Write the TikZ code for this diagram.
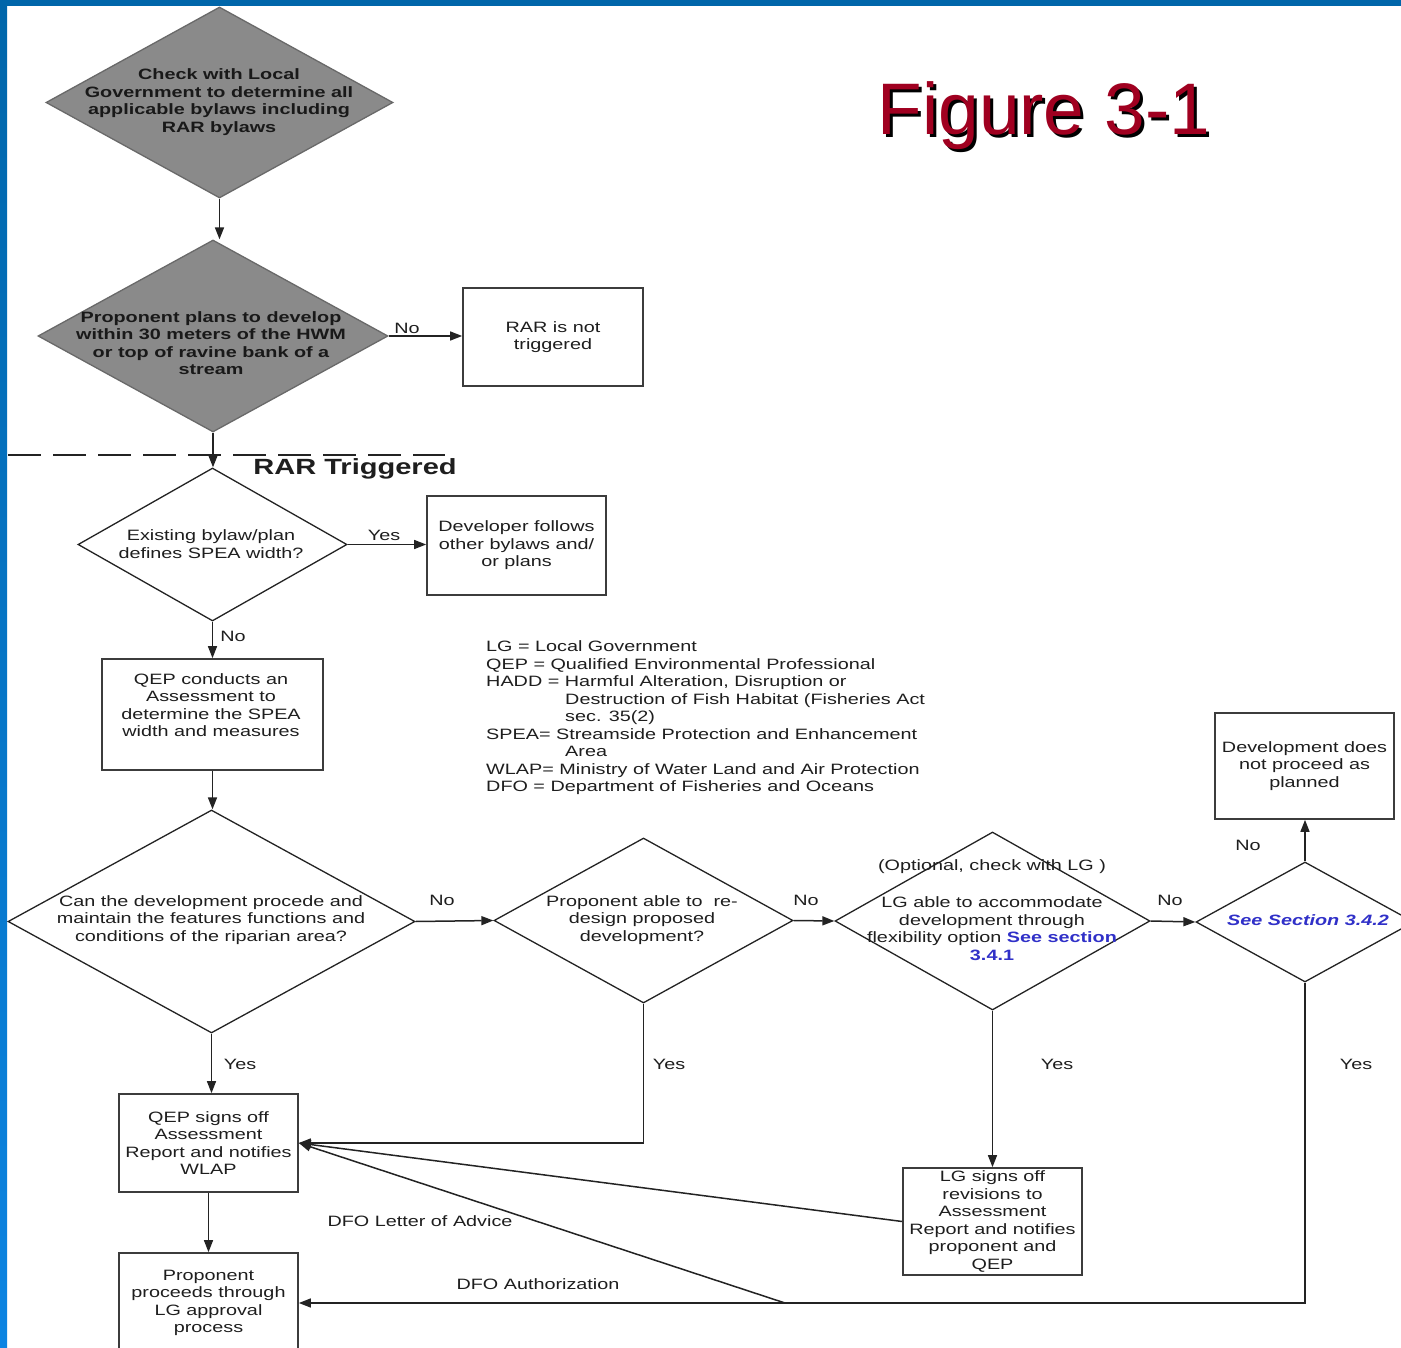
\documentclass[tikz,border=0pt]{standalone}
\usepackage{fontspec}
\setmainfont{Liberation Sans}[FakeStretch=1.32]
\newfontfamily\titlefont{Liberation Sans}
\usetikzlibrary{arrows.meta,shapes.geometric}
\definecolor{linec}{RGB}{35,35,35}
\definecolor{boxc}{RGB}{60,60,60}
\definecolor{textc}{RGB}{30,30,30}
\definecolor{gfill}{RGB}{138,138,138}
\definecolor{gdraw}{RGB}{105,105,105}
\definecolor{linkc}{RGB}{48,48,200}
\definecolor{titlec}{RGB}{160,0,32}
\definecolor{topblue}{RGB}{0,102,170}
\definecolor{botblue}{RGB}{12,132,226}
\newcommand\bodyf{\fontsize{15}{17.5}\selectfont}
\tikzset{
  ln/.style={draw=linec, line width=1.5pt},
  arr/.style={ln, -{Triangle[length=12pt,width=9pt]}},
  box/.style={draw=boxc, line width=1.7pt, fill=white, inner sep=0pt, align=center, font=\bodyf, text=textc},
  dia/.style={diamond, draw=linec, line width=1.3pt, inner sep=0pt, fill=white},
  gdia/.style={dia, fill=gfill, draw=gdraw},
  txt/.style={align=center, inner sep=0pt, font=\bodyf, text=textc},
  btxt/.style={align=center, inner sep=0pt, font=\bodyf\bfseries, text=black!90},
  lab/.style={inner sep=0pt, font=\bodyf, text=textc},
}
\begin{document}
\begin{tikzpicture}[x=1pt,y=-1pt]
\useasboundingbox (0,0) rectangle (1401,1348);
\clip (0,0) rectangle (1401,1348);
\fill[white] (0,0) rectangle (1401,1348);
\fill[topblue] (0,0) rectangle (1401,6);
\shade[top color=topblue, bottom color=botblue] (0,0) rectangle (7,1348);

% title with drop shadow
\node[inner sep=0pt, anchor=base, font=\titlefont\fontsize{73}{80}\selectfont, text=black] (titleshadow) at (1047,138) {Figure 3-1};
\node[inner sep=0pt, anchor=base, font=\titlefont\fontsize{73}{80}\selectfont, text=titlec] (title) at (1044,135) {Figure 3-1};

% dashed separator
\draw[draw=linec, line width=1.3pt, dash pattern=on 33pt off 12pt] (8,455) -- (445,455);
\node[inner sep=0pt, font=\fontsize{22}{26}\selectfont\bfseries, text=textc] (rart) at (355,469) {RAR Triggered};

% diamonds
\node[gdia, minimum width=347pt, minimum height=191pt] (d1) at (219.5,102.5) {};
\node[btxt] (d1t) at (219,102) {Check with Local\\Government to determine all\\applicable bylaws including\\RAR bylaws};
\node[gdia, minimum width=350pt, minimum height=192pt] (d2) at (213,336) {};
\node[btxt] (d2t) at (211,343) {Proponent plans to develop\\within 30 meters of the HWM\\or top of ravine bank of a\\stream};
\node[dia, minimum width=269pt, minimum height=153pt] (d3) at (212.5,544.5) {};
\node[txt] (d3t) at (211,544) {Existing bylaw/plan\\defines SPEA width?};
\node[dia, minimum width=407pt, minimum height=223pt] (d4) at (211.5,921.5) {};
\node[txt] (d4t) at (211,920) {Can the development procede and\\maintain the features functions and\\conditions of the riparian area?};
\node[dia, minimum width=299pt, minimum height=165pt] (d5) at (643.5,920.5) {};
\node[txt] (d5t) at (642,920) {Proponent able to\ \ re-\\design proposed\\development?};
\node[dia, minimum width=315pt, minimum height=178pt] (d6) at (992.5,921) {};
\node[txt] (d6o) at (992,867) {(Optional, check with LG )};
\node[txt] (d6t) at (992,928.5) {LG able to accommodate\\development through\\flexibility option {\color{linkc}\bfseries See section}\\{\color{linkc}\bfseries 3.4.1}};
\node[dia, minimum width=218pt, minimum height=120pt] (d7) at (1305,922) {};
\node[txt, text=linkc, font=\bodyf\bfseries\itshape] (d7t) at (1308,920) {See Section 3.4.2};

% boxes
\node[box, minimum width=180pt, minimum height=98pt] (rar) at (553,337) {RAR is not\\triggered};
\node[box, minimum width=179pt, minimum height=99pt] (dev) at (516.5,545.5) {Developer follows\\other bylaws and/\\or plans};
\node[box, minimum width=221pt, minimum height=111pt] (qep1) at (212.5,714.5) {};
\node[txt] (qep1t) at (211,705) {QEP conducts an\\Assessment to\\determine the SPEA\\width and measures};
\node[box, minimum width=179pt, minimum height=106pt] (dnp) at (1304.5,766) {Development does\\not proceed as\\planned};
\node[box, minimum width=179pt, minimum height=98pt] (qep2) at (208.5,1143) {QEP signs off\\Assessment\\Report and notifies\\WLAP};
\node[box, minimum width=179pt, minimum height=107pt] (lg) at (992.5,1221.5) {LG signs off\\revisions to\\Assessment\\Report and notifies\\proponent and\\QEP};
\node[box, minimum width=179pt, minimum height=100pt] (prop) at (208.5,1303) {Proponent\\proceeds through\\LG approval\\process};

% legend
\node[lab, align=left, anchor=west] (legend) at (486,718) {LG = Local Government\\QEP = Qualified Environmental Professional\\HADD = Harmful Alteration, Disruption or\\\hspace*{79pt}Destruction of Fish Habitat (Fisheries Act\\\hspace*{79pt}sec. 35(2)\\SPEA= Streamside Protection and Enhancement\\\hspace*{79pt}Area\\WLAP= Ministry of Water Land and Air Protection\\DFO = Department of Fisheries and Oceans};

% connectors
\draw[arr] (d1.south) -- (d1.south |- d2.north);
\draw[arr] (d2.east) -- (d2.east -| rar.west);
\draw[arr] (d2.south) -- (d2.south |- d3.north);
\draw[arr] (d3.east) -- (d3.east -| dev.west);
\draw[arr] (d3.south) -- (d3.south |- qep1.north);
\draw[arr] (qep1.south) -- (qep1.south |- d4.north);
\draw[arr] (d4.east) -- (d5.west);
\draw[arr] (d5.east) -- (d6.west);
\draw[arr] (d6.east) -- (d7.west);
\draw[arr] (d7.north) -- (d7.north |- dnp.south);
\draw[arr] (d4.south) -- (d4.south |- qep2.north);
\draw[arr] (d5.south) |- (qep2.east);
\draw[arr] (d6.south) -- (d6.south |- lg.north);
\draw[arr] (lg.west) -- (qep2.east);
\coordinate (dfo) at (785,1303);
\draw[arr] (dfo) -- (qep2.east);
\draw[arr] (d7.south) |- (prop.east);
\draw[arr] (qep2.south) -- (qep2.south |- prop.north);

% labels
\node[lab] (l1) at (407,328) {No};
\node[lab] (l2) at (384,535) {Yes};
\node[lab] (l3) at (233,636) {No};
\node[lab] (l4) at (442,900) {No};
\node[lab] (l5) at (806,900) {No};
\node[lab] (l6) at (1170,900) {No};
\node[lab] (l7) at (1248,845) {No};
\node[lab] (l8) at (240,1064) {Yes};
\node[lab] (l9) at (669,1064) {Yes};
\node[lab] (l10) at (1057,1064) {Yes};
\node[lab] (l11) at (1356,1064) {Yes};
\node[lab] (l12) at (420,1221) {DFO Letter of Advice};
\node[lab] (l13) at (538,1284) {DFO Authorization};
\end{tikzpicture}
\end{document}
